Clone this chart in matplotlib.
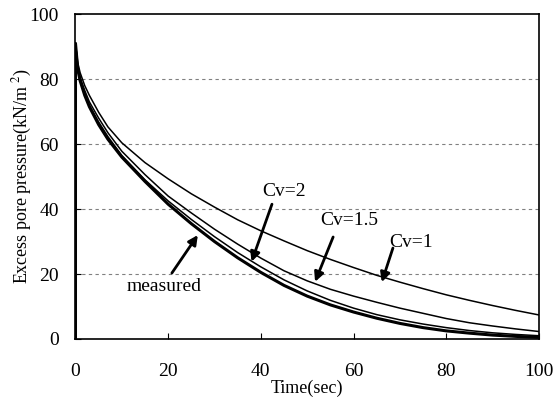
import matplotlib
matplotlib.use("Agg")
import matplotlib.pyplot as plt

plt.rcParams["font.family"] = ["Liberation Serif", "DejaVu Serif"]
plt.rcParams["mathtext.fontset"] = "stix"

# time (sec)
time = [0, 0.5, 1, 2, 3, 5, 7, 10, 15, 20, 25, 30, 35, 40, 45, 50,
        55, 60, 65, 70, 75, 80, 85, 90, 95, 100]

# excess pore pressure (kN/m2)
measured = [91, 83, 79.5, 75, 71.5, 66, 61.5, 56, 48.5, 41.5, 35.5, 30, 25, 20.5, 16.5, 13.2,
            10.5, 8.3, 6.4, 4.8, 3.5, 2.5, 1.8, 1.2, 0.8, 0.5]
cv2 = [91, 83.5, 80, 75.5, 72, 66.8, 62.3, 56.5, 49, 42.5, 36.8, 31.5, 26.6, 22.2, 18.2, 14.8,
       11.9, 9.5, 7.5, 5.9, 4.6, 3.5, 2.6, 1.9, 1.4, 1.0]
cv15 = [91, 84, 80.5, 76.5, 73, 68, 63.5, 57.8, 50.6, 44, 38.8, 33.8, 29.2, 24.9, 21.0, 17.9,
        15.3, 13.2, 11.3, 9.5, 7.9, 6.3, 5.0, 4.0, 3.1, 2.3]
cv1 = [91, 85, 82, 78, 75, 69.8, 65.3, 60.4, 54.3, 49.3, 44.7, 40.6, 36.7, 33.3, 30.2, 27.2,
       24.5, 22, 19.6, 17.5, 15.5, 13.6, 11.9, 10.3, 8.8, 7.4]

fig = plt.figure(figsize=(5.55, 4.05), dpi=100)
ax = fig.add_axes([0.136, 0.163, 0.835, 0.802])

for y in [20, 40, 60, 80]:
    ax.axhline(y, color="gray", lw=0.8, ls=(0, (3, 3)), zorder=0)

ax.plot(time, cv1, color="black", lw=1.1)
ax.plot(time, cv15, color="black", lw=1.1)
ax.plot(time, cv2, color="black", lw=1.1)
ax.plot([0] + time, [0] + measured, color="black", lw=2.2)

arrow = dict(arrowstyle="-|>", color="black", lw=2, mutation_scale=14,
             shrinkA=0, shrinkB=0)
ax.annotate("", xy=(38, 23.8), xytext=(42.4, 41.5), arrowprops=arrow)
ax.text(45, 45.5, "Cv=2", fontsize=14, ha="center", va="center")
ax.annotate("", xy=(51.7, 17.6), xytext=(55.6, 31.4), arrowprops=arrow)
ax.text(59, 36.6, "Cv=1.5", fontsize=14, ha="center", va="center")
ax.annotate("", xy=(66.1, 17.5), xytext=(68.5, 28), arrowprops=arrow)
ax.text(72.5, 29.8, "Cv=1", fontsize=14, ha="center", va="center")
ax.annotate("", xy=(26.4, 32), xytext=(20.8, 20.3), arrowprops=arrow)
ax.text(19.1, 16.3, "measured", fontsize=14, ha="center", va="center")

ax.set_xlim(0, 100)
ax.set_ylim(0, 100)
ax.set_xticks([0, 20, 40, 60, 80, 100])
ax.set_yticks([0, 20, 40, 60, 80, 100])
ax.tick_params(direction="in", labelsize=14, length=4)
ax.tick_params(axis="x", pad=17)
ax.tick_params(axis="y", pad=12)
ax.set_xlabel("Time(sec)", fontsize=13, labelpad=0)
ax.set_ylabel("Excess pore pressure(kN/m$^{\\ 2}$)", fontsize=13, labelpad=-3)
for s in ax.spines.values():
    s.set_linewidth(1.2)

fig.savefig("out.png", dpi=100)
